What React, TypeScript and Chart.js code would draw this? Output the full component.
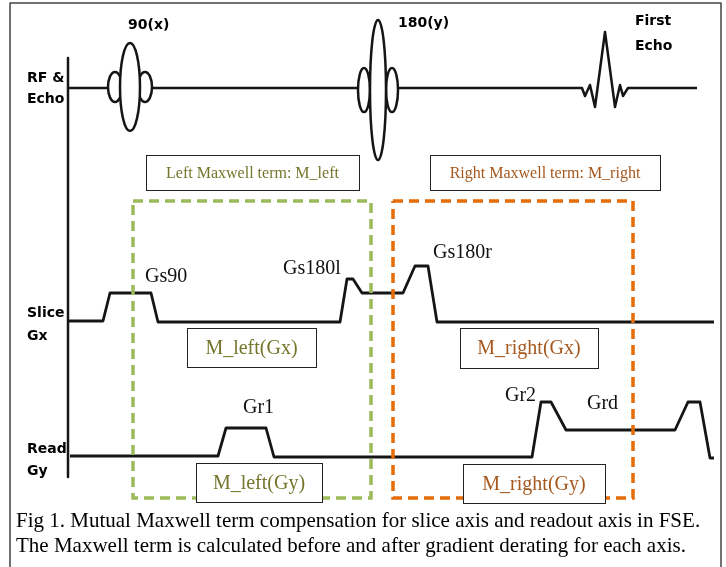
import React, { useEffect, useRef } from "react";
import { Chart, registerables } from "chart.js";
Chart.register(...registerables);

// ---- Diagram data (time axis 0..726, vertical position 0..567, top down) ----
const frameX = [10, 10, 721, 721];
const frameY = [567, 3, 3, 567];

const axisX = [68, 68];
const axisY = [58, 477];

// RF & Echo channel (baseline + first echo)
const rfX = [68, 580, 582, 585, 590, 595, 605, 615, 620, 623, 628, 697];
const rfY = [88, 88, 88, 96, 85, 107, 32, 107, 85, 96, 88, 88];

// Slice Gx channel
const sliceX = [68, 103, 110, 151, 158, 340, 347, 353, 362, 403, 415, 428, 437, 714];
const sliceY = [321, 321, 293, 293, 322, 322, 279, 279, 293, 293, 266, 266, 322, 322];

// Read Gy channel
const readX = [70, 218, 226, 266, 274, 532, 541, 551, 566, 675, 688, 700, 710, 714];
const readY = [456, 456, 428, 428, 457, 457, 402, 402, 430, 430, 402, 402, 458, 458];

// RF pulses: 90(x) and 180(y)
const pulseCenter = [130, 378];
const pulseBaseline = [87, 90];
const mainHalfWidth = [10, 8];
const mainHalfHeight = [44, 70];
const sideOffset = [15, 14];
const sideHalfWidth = [7, 6];
const sideHalfHeight = [15, 22];

// Dashed regions
const leftRegionX = [133, 371, 371, 133, 133];
const leftRegionY = [201, 201, 498, 498, 201];
const rightRegionX = [393, 633, 633, 393, 393];
const rightRegionY = [201, 201, 498, 498, 201];

// Boxed labels
const boxTexts = [
  "Left Maxwell term: M_left",
  "Right Maxwell term: M_right",
  "M_left(Gx)",
  "M_right(Gx)",
  "M_left(Gy)",
  "M_right(Gy)",
];
const boxLeft = [146, 430, 187, 460, 196, 463];
const boxRight = [359, 660, 316, 598, 322, 605];
const boxTop = [155, 155, 328, 328, 463, 464];
const boxBottom = [190, 190, 367, 368, 502, 503];
const boxSide = ["L", "R", "L", "R", "L", "R"];
const boxFontSize = [16, 16, 20, 20, 20, 20];

// Channel / pulse labels (bold sans)
const sansTexts = ["90(x)", "180(y)", "First", "Echo", "RF &", "Echo", "Slice", "Gx", "Read", "Gy"];
const sansX = [128, 398, 635, 635, 27, 27, 27, 27, 27, 27];
const sansY = [29, 27, 25, 50, 82, 103, 317, 340, 453, 475];

// Gradient labels (serif)
const serifTexts = ["Gs90", "Gs180l", "Gs180r", "Gr1", "Gr2", "Grd"];
const serifX = [145, 283, 433, 243, 505, 587];
const serifY = [282, 274, 258, 413, 401, 409];

const captionLines = [
  "Fig 1. Mutual Maxwell term compensation for slice axis and readout axis in FSE.",
  "The Maxwell term is calculated before and after gradient derating for each axis.",
];

const INK = "#151515";
const GREEN = "#9bbb59";
const ORANGE = "#e46c0a";
const LEFT_TEXT = "#74762c";
const RIGHT_TEXT = "#a5581e";

const pts = (xs: number[], ys: number[]) => xs.map((x, i) => ({ x, y: ys[i] }));

const annotPlugin = {
  id: "annot",
  afterDatasetsDraw(chart: any) {
    const ctx = chart.ctx as CanvasRenderingContext2D;
    const sx = chart.scales.x;
    const sy = chart.scales.y;
    const px = (v: number) => sx.getPixelForValue(v);
    const py = (v: number) => sy.getPixelForValue(v);
    ctx.save();
    // RF pulses
    const ell = (cx: number, cy: number, hw: number, hh: number) => {
      const x = px(cx);
      const y = py(cy);
      const rx = Math.abs(px(cx + hw) - x);
      const ry = Math.abs(py(cy + hh) - y);
      ctx.beginPath();
      ctx.ellipse(x, y, rx, ry, 0, 0, Math.PI * 2);
      ctx.fillStyle = "#fff";
      ctx.fill();
      ctx.lineWidth = 2.5;
      ctx.strokeStyle = INK;
      ctx.stroke();
    };
    pulseCenter.forEach((c, i) => {
      const b = pulseBaseline[i];
      ell(c - sideOffset[i], b, sideHalfWidth[i], sideHalfHeight[i]);
      ell(c + sideOffset[i], b, sideHalfWidth[i], sideHalfHeight[i]);
      ell(c, b, mainHalfWidth[i], mainHalfHeight[i]);
    });
    // Boxed labels
    boxTexts.forEach((t, i) => {
      const l = px(boxLeft[i]);
      const r = px(boxRight[i]);
      const tp = py(boxTop[i]);
      const bt = py(boxBottom[i]);
      ctx.fillStyle = "#fff";
      ctx.fillRect(l, tp, r - l, bt - tp);
      ctx.lineWidth = 1;
      ctx.strokeStyle = "#222";
      ctx.strokeRect(Math.round(l) + 0.5, Math.round(tp) + 0.5, Math.round(r - l), Math.round(bt - tp));
      ctx.font = `${boxFontSize[i]}px "Liberation Serif", "Times New Roman", serif`;
      ctx.fillStyle = boxSide[i] === "L" ? LEFT_TEXT : RIGHT_TEXT;
      ctx.textAlign = "center";
      ctx.textBaseline = "middle";
      ctx.fillText(t, (l + r) / 2, (tp + bt) / 2 + 1);
    });
    // Sans labels
    ctx.textAlign = "left";
    ctx.textBaseline = "alphabetic";
    ctx.fillStyle = "#000";
    ctx.font = 'bold 14px "DejaVu Sans", sans-serif';
    sansTexts.forEach((t, i) => ctx.fillText(t, px(sansX[i]), py(sansY[i])));
    // Serif labels
    ctx.fillStyle = "#111";
    ctx.font = '20px "Liberation Serif", "Times New Roman", serif';
    serifTexts.forEach((t, i) => ctx.fillText(t, px(serifX[i]), py(serifY[i])));
    ctx.restore();
  },
};

export default function App() {
  const ref = useRef<HTMLCanvasElement>(null);
  useEffect(() => {
    if (!ref.current) return;
    const wave = (xs: number[], ys: number[], width: number, order: number) => ({
      data: pts(xs, ys),
      borderColor: INK,
      borderWidth: width,
      borderJoinStyle: "round" as const,
      pointRadius: 0,
      fill: false,
      tension: 0,
      order,
    });
    const region = (xs: number[], ys: number[], color: string) => ({
      data: pts(xs, ys),
      borderColor: color,
      borderWidth: 3.5,
      borderDash: [10, 6],
      pointRadius: 0,
      fill: false,
      tension: 0,
      order: 1,
    });
    const chart = new Chart(ref.current, {
      type: "line",
      data: {
        datasets: [
          { ...wave(frameX, frameY, 1.5, 5), borderColor: "#444" },
          wave(axisX, axisY, 2.5, 4),
          wave(rfX, rfY, 2.5, 3),
          wave(sliceX, sliceY, 2.8, 3),
          wave(readX, readY, 2.8, 3),
          region(leftRegionX, leftRegionY, GREEN),
          region(rightRegionX, rightRegionY, ORANGE),
        ] as any,
      },
      options: {
        responsive: false,
        animation: false,
        devicePixelRatio: 1,
        events: [],
        layout: { padding: 0 },
        plugins: {
          legend: { display: false },
          tooltip: { enabled: false },
          title: { display: false },
        },
        scales: {
          x: { type: "linear", display: false, min: 0, max: 726 },
          y: { type: "linear", display: false, min: 0, max: 567, reverse: true },
        },
      },
      plugins: [annotPlugin],
    });
    return () => chart.destroy();
  }, []);
  return (
    <div
      style={{
        position: "absolute",
        left: 0,
        top: 0,
        width: 726,
        height: 567,
        background: "#fff",
        overflow: "hidden",
      }}
    >
      <canvas ref={ref} width={726} height={567} style={{ display: "block" }} />
      <div
        style={{
          position: "absolute",
          left: 16,
          top: 508,
          font: '21px "Liberation Serif", "Times New Roman", serif',
          lineHeight: "25px",
          color: "#000",
          whiteSpace: "nowrap",
        }}
      >
        {captionLines.map((l, i) => (
          <div key={i}>{l}</div>
        ))}
      </div>
    </div>
  );
}
